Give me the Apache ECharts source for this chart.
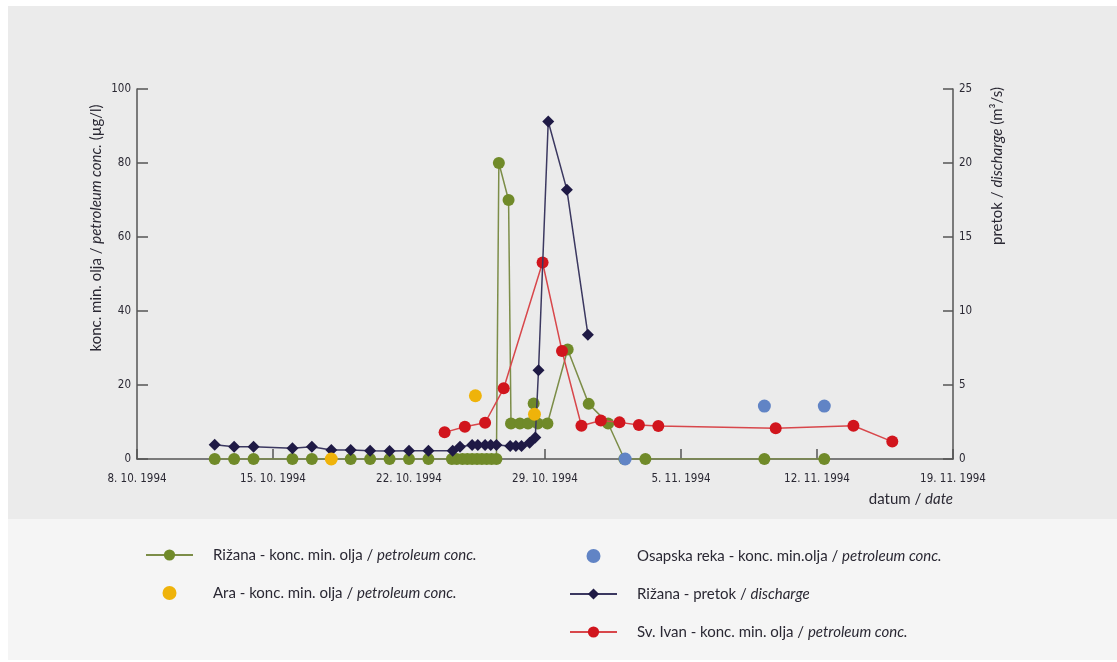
<!DOCTYPE html>
<html>
<head>
<meta charset="utf-8">
<script src="https://cdn.jsdelivr.net/npm/echarts@6/dist/echarts.min.js"></script>
<style>
html, body { margin: 0; padding: 0; background: #ffffff; }
#chart { width: 1117px; height: 662px; }
</style>
</head>
<body>
<div id="chart"></div>
<script>
// Date tick labels (one per week, starting 8. 10. 1994)
const tickLabels = ['8. 10. 1994', '15. 10. 1994', '22. 10. 1994', '29. 10. 1994', '5. 11. 1994', '12. 11. 1994', '19. 11. 1994'];

// Rižana – petroleum concentration (µg/l)
const rizanaConcDates = [
  '1994-10-12', '1994-10-13', '1994-10-14', '1994-10-16', '1994-10-17',
  '1994-10-19', '1994-10-20', '1994-10-21', '1994-10-22', '1994-10-23',
  '1994-10-24 05:00', '1994-10-24 11:00', '1994-10-24 18:00', '1994-10-25 00:00', '1994-10-25 06:00',
  '1994-10-25 12:00', '1994-10-25 18:00', '1994-10-26 00:00', '1994-10-26 06:00', '1994-10-26 12:00',
  '1994-10-26 15:00', '1994-10-27 03:00', '1994-10-27 06:00', '1994-10-27 17:00', '1994-10-28 03:00',
  '1994-10-28 10:00', '1994-10-28 15:00', '1994-10-29 03:00', '1994-10-30 04:00', '1994-10-31 06:00',
  '1994-11-01 06:00', '1994-11-02 02:00', '1994-11-03 04:00', '1994-11-09 07:00', '1994-11-12 09:00'
];
const rizanaConcValues = [
  0, 0, 0, 0, 0, 0, 0, 0, 0, 0,
  0, 0, 0, 0, 0, 0, 0, 0, 0, 0,
  80, 70, 9.6, 9.6, 9.6, 15, 9.6, 9.6, 29.6, 14.9,
  9.6, 0, 0, 0, 0
];

// Ara – petroleum concentration (µg/l)
const araDates = ['1994-10-18', '1994-10-25 10:00', '1994-10-28 11:00'];
const araValues = [0, 17.1, 12.1];

// Osapska reka – petroleum concentration (µg/l)
const osapskaDates = ['1994-11-02 03:00', '1994-11-09 07:00', '1994-11-12 09:00'];
const osapskaValues = [0, 14.3, 14.3];

// Rižana – discharge (m³/s)
const rizanaFlowDates = [
  '1994-10-12', '1994-10-13', '1994-10-14', '1994-10-16', '1994-10-17',
  '1994-10-18', '1994-10-19', '1994-10-20', '1994-10-21', '1994-10-22',
  '1994-10-23', '1994-10-24 06:00', '1994-10-24 15:00', '1994-10-25 06:00', '1994-10-25 13:00',
  '1994-10-25 22:00', '1994-10-26 05:00', '1994-10-26 12:00', '1994-10-27 05:00', '1994-10-27 12:00',
  '1994-10-27 19:00', '1994-10-28 05:00', '1994-10-28 12:00', '1994-10-28 16:00', '1994-10-29 04:00',
  '1994-10-30 03:00', '1994-10-31 05:00'
];
const rizanaFlowValues = [
  0.97, 0.83, 0.83, 0.72, 0.83, 0.61, 0.61, 0.56, 0.54, 0.56,
  0.56, 0.56, 0.83, 0.95, 0.95, 0.95, 0.95, 0.95, 0.88, 0.88,
  0.88, 1.1, 1.45, 6.0, 22.8, 18.2, 8.4
];

// Sv. Ivan – petroleum concentration (µg/l)
const svIvanDates = [
  '1994-10-23 20:00', '1994-10-24 21:00', '1994-10-25 22:00', '1994-10-26 21:00', '1994-10-28 21:00',
  '1994-10-29 21:00', '1994-10-30 21:00', '1994-10-31 21:00', '1994-11-01 20:00', '1994-11-02 20:00',
  '1994-11-03 20:00', '1994-11-09 21:00', '1994-11-13 21:00', '1994-11-15 21:00'
];
const svIvanValues = [7.2, 8.7, 9.8, 19.1, 53.1, 29.2, 9.0, 10.4, 9.9, 9.2, 8.9, 8.3, 9.0, 4.7];

// Days elapsed since 8. 10. 1994 (the start of the time axis)
function dayOffset(s) {
  const parts = s.split(' ');
  const ymd = parts[0].split('-').map(Number);
  const hm = (parts[1] || '00:00').split(':').map(Number);
  return (Date.UTC(ymd[0], ymd[1] - 1, ymd[2], hm[0], hm[1]) - Date.UTC(1994, 9, 8)) / 864e5;
}
function pairs(dates, values) {
  return dates.map((d, i) => [dayOffset(d), values[i]]);
}

const FONT = "'Liberation Sans Narrow', 'DejaVu Sans Condensed', sans-serif";
const TEXT_FONT = "Lato, 'Open Sans', sans-serif";
const TEXT_SIZE = 15;
const TICK_SIZE = 11.5;
const TEXT_COLOR = '#2a2833';
const AXIS_COLOR = '#555555';

const GREEN = '#708a29';
const YELLOW = '#efb30a';
const BLUE = '#6184c5';
const NAVY = '#1f1a45';
const RED = '#d1151d';

const NAMES = {
  rizanaConc: 'Rižana - konc. min. olja / petroleum conc.',
  ara: 'Ara - konc. min. olja / petroleum conc.',
  osapska: 'Osapska reka - konc. min.olja / petroleum conc.',
  rizanaFlow: 'Rižana - pretok / discharge',
  svIvan: 'Sv. Ivan - konc. min. olja / petroleum conc.'
};

function legendFormatter(name) {
  const i = name.lastIndexOf('/ ');
  return '{n|' + name.slice(0, i + 2) + '}{i|' + name.slice(i + 2) + '}';
}
const legendText = {
  color: TEXT_COLOR,
  fontFamily: TEXT_FONT,
  fontSize: TEXT_SIZE,
  lineHeight: 16,
  padding: [0, 0, 0, 15],
  rich: {
    n: { fontFamily: TEXT_FONT, fontSize: TEXT_SIZE, color: TEXT_COLOR, lineHeight: 16 },
    i: { fontFamily: TEXT_FONT, fontSize: TEXT_SIZE, color: TEXT_COLOR, fontStyle: 'italic', lineHeight: 16 }
  }
};
const nameRich = {
  n: { fontFamily: TEXT_FONT, fontSize: TEXT_SIZE, fill: TEXT_COLOR },
  i: { fontFamily: TEXT_FONT, fontSize: TEXT_SIZE, fill: TEXT_COLOR, fontStyle: 'italic' }
};

const chart = echarts.init(document.getElementById('chart'), null, { renderer: 'canvas' });

chart.setOption({
  backgroundColor: '#ffffff',
  animation: false,
  graphic: [
    { type: 'rect', z: -10, silent: true, shape: { x: 8, y: 6, width: 1109, height: 513 }, style: { fill: '#ebebeb' } },
    { type: 'rect', z: -10, silent: true, shape: { x: 8, y: 519, width: 1109, height: 141 }, style: { fill: '#f5f5f5' } },
    {
      type: 'text', x: 96, y: 228, rotation: Math.PI / 2, silent: true,
      style: {
        text: '{n|konc. min. olja / }{i|petroleum conc.}{n| (µg/l)}',
        align: 'center', verticalAlign: 'middle', rich: nameRich
      }
    },
    {
      type: 'text', x: 997, y: 166, rotation: Math.PI / 2, silent: true,
      style: {
        text: '{n|pretok / }{i|discharge}{n| (m³/s)}',
        align: 'center', verticalAlign: 'middle', rich: nameRich
      }
    },
    {
      type: 'text', x: 953, y: 499, silent: true,
      style: {
        text: '{n|datum / }{i|date}',
        align: 'right', verticalAlign: 'middle', rich: nameRich
      }
    }
  ],
  legend: [
    {
      orient: 'vertical', left: 145, top: 547, padding: 0,
      itemWidth: 47, itemHeight: 14, itemGap: 22,
      selectedMode: false,
      data: [NAMES.rizanaConc, NAMES.ara],
      formatter: legendFormatter,
      textStyle: legendText
    },
    {
      orient: 'vertical', left: 569, top: 548, padding: 0,
      itemWidth: 47, itemHeight: 14, itemGap: 22,
      selectedMode: false,
      data: [NAMES.osapska, NAMES.rizanaFlow, NAMES.svIvan],
      formatter: legendFormatter,
      textStyle: legendText
    }
  ],
  grid: { left: 137, right: 164, top: 89, bottom: 203, containLabel: false, outerBoundsMode: 'none' },
  xAxis: {
    type: 'value', min: 0, max: 42, interval: 7,
    axisLine: { lineStyle: { color: AXIS_COLOR, width: 1.5 } },
    axisTick: { inside: true, length: 10, lineStyle: { color: AXIS_COLOR, width: 1.5 } },
    axisLabel: {
      margin: 14, color: TEXT_COLOR, fontFamily: FONT, fontSize: TICK_SIZE,
      formatter: v => tickLabels[Math.round(v / 7)] || ''
    },
    splitLine: { show: false }
  },
  yAxis: [
    {
      type: 'value', min: 0, max: 100, interval: 20, position: 'left',
      axisLine: { show: true, lineStyle: { color: AXIS_COLOR, width: 1.5 } },
      axisTick: { show: true, inside: true, length: 11, lineStyle: { color: AXIS_COLOR, width: 1.5 } },
      axisLabel: { margin: 6, color: TEXT_COLOR, fontFamily: FONT, fontSize: TICK_SIZE },
      splitLine: { show: false }
    },
    {
      type: 'value', min: 0, max: 25, interval: 5, position: 'right',
      axisLine: { show: true, lineStyle: { color: AXIS_COLOR, width: 1.5 } },
      axisTick: { show: true, inside: true, length: 10, lineStyle: { color: AXIS_COLOR, width: 1.5 } },
      axisLabel: { margin: 6, color: TEXT_COLOR, fontFamily: FONT, fontSize: TICK_SIZE },
      splitLine: { show: false }
    }
  ],
  series: [
    {
      name: NAMES.rizanaConc, type: 'line', yAxisIndex: 0, z: 2,
      data: pairs(rizanaConcDates, rizanaConcValues),
      symbol: 'circle', symbolSize: 12,
      itemStyle: { color: GREEN },
      lineStyle: { color: '#7c8d48', width: 1.5 }
    },
    {
      name: NAMES.svIvan, type: 'line', yAxisIndex: 0, z: 3,
      data: pairs(svIvanDates, svIvanValues),
      symbol: 'circle', symbolSize: 12,
      itemStyle: { color: RED },
      lineStyle: { color: '#d8474b', width: 1.5 }
    },
    {
      name: NAMES.rizanaFlow, type: 'line', yAxisIndex: 1, z: 4,
      data: pairs(rizanaFlowDates, rizanaFlowValues),
      symbol: 'diamond', symbolSize: 12,
      itemStyle: { color: NAVY },
      lineStyle: { color: '#3b3860', width: 1.5 }
    },
    {
      name: NAMES.ara, type: 'scatter', yAxisIndex: 0, z: 5,
      data: pairs(araDates, araValues),
      symbol: 'circle', symbolSize: 13,
      itemStyle: { color: YELLOW, opacity: 1 }
    },
    {
      name: NAMES.osapska, type: 'scatter', yAxisIndex: 0, z: 5,
      data: pairs(osapskaDates, osapskaValues),
      symbol: 'circle', symbolSize: 13,
      itemStyle: { color: BLUE, opacity: 1 }
    }
  ]
});
</script>
</body>
</html>
